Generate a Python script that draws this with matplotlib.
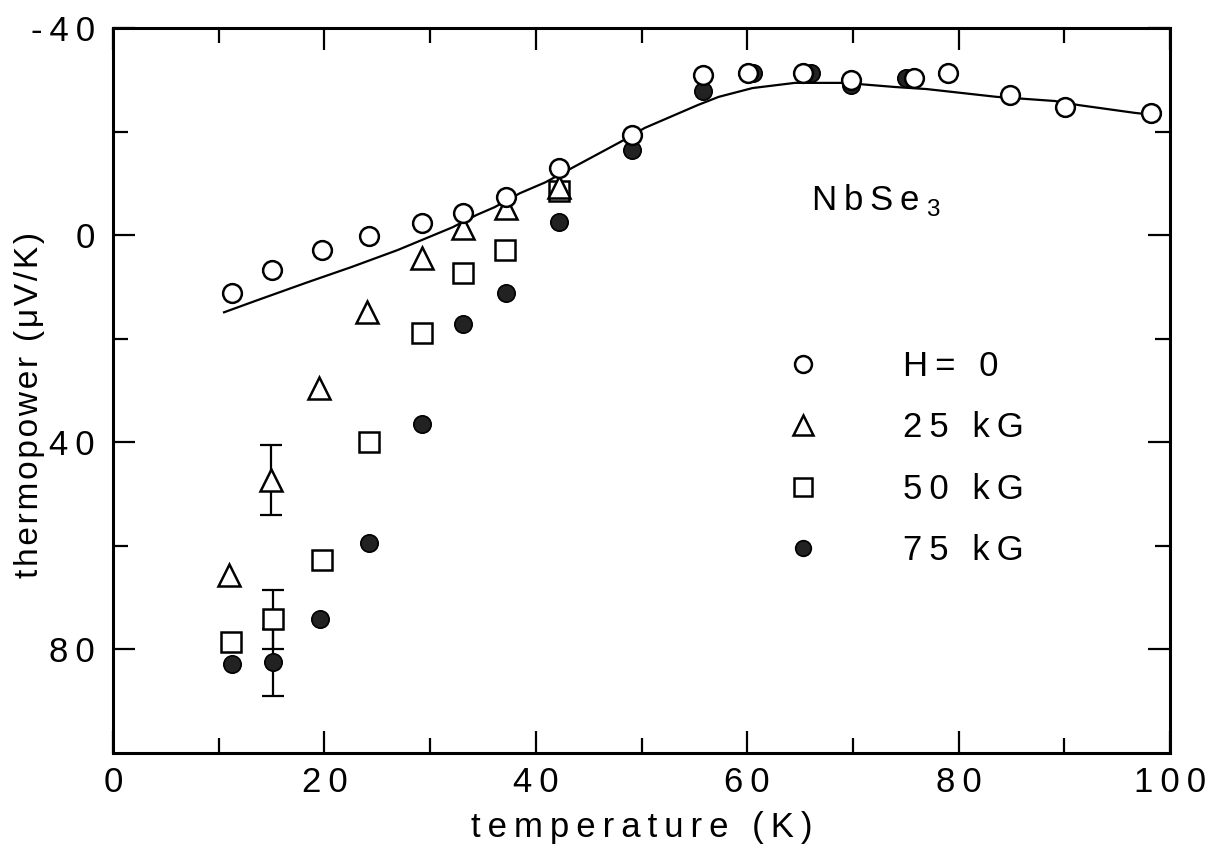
import numpy as np
import matplotlib
matplotlib.use("Agg")
import matplotlib.pyplot as plt

plt.rcParams['font.family'] = ['Liberation Sans', 'DejaVu Sans']
plt.rcParams['mathtext.fontset'] = 'custom'
plt.rcParams['mathtext.rm'] = 'Liberation Sans'

# H = 0 (open circles)
circ_T = [11.3, 15.0, 19.8, 24.2, 29.2, 33.1, 37.2, 42.2, 49.1, 55.8, 60.1,
          65.3, 69.8, 75.8, 79.0, 84.9, 90.1, 98.2]
circ_S = [11.2, 6.8, 2.9, 0.2, -2.3, -4.3, -7.3, -12.9, -19.3, -30.9, -31.3,
          -31.3, -30.0, -30.3, -31.3, -27.1, -24.7, -23.6]

# 25 kG (triangles)
tri_T = [11.0, 14.9, 19.5, 24.0, 29.2, 33.1, 37.2, 42.2]
tri_S = [65.7, 47.3, 29.6, 14.9, 4.4, -1.4, -5.2, -9.3]
tri_err = [0, 6.8, 0, 0, 0, 0, 0, 0]

# 50 kG (squares)
sq_T = [11.2, 15.1, 19.8, 24.2, 29.2, 33.1, 37.1, 42.2]
sq_S = [78.5, 74.2, 62.8, 40.0, 18.9, 7.3, 2.9, -8.5]
sq_err = [0, 5.7, 0, 0, 0, 0, 0, 0]

# 75 kG (filled circles)
fill_T = [11.3, 15.1, 19.6, 24.2, 29.2, 33.1, 37.2, 42.2, 49.1, 55.8, 60.5,
          66.0, 69.8, 75.0]
fill_S = [82.9, 82.5, 74.2, 59.5, 36.5, 17.2, 11.2, -2.5, -16.4, -27.8,
          -31.3, -31.3, -29.0, -30.3]
fill_err = [0, 6.4, 0, 0, 0, 0, 0, 0, 0, 0, 0, 0, 0, 0]

# calculated curve
curve_T = [10.5, 13.6, 18.4, 22.5, 26.9, 32.1, 34.4, 36.1, 38.5, 40.9, 43.9,
           48.0, 50.3, 55.3, 57.3, 60.5, 64.5, 69.2, 74.0, 77.0, 83.6, 89.1,
           91.4, 96.7, 97.6]
curve_S = [14.9, 12.6, 9.1, 6.2, 2.9, -1.5, -3.9, -5.4, -8.1, -10.2, -13.5,
           -18.0, -20.7, -25.1, -26.7, -28.4, -29.4, -29.4, -28.6, -28.2,
           -26.7, -25.9, -25.1, -23.6, -23.4]

xticks = [0, 20, 40, 60, 80, 100]
yticks = [-40, 0, 40, 80]
ytick_labels = ['-40', '0', '40', '80']
legend_labels = ['H= 0', '25 kG', '50 kG', '75 kG']

FS = 25
SP = '\u2009'


def spaced(s, sep=SP):
    return sep.join(s)


fig = plt.figure(figsize=(12.17, 8.48), dpi=100)
ax = fig.add_axes([0.0929, 0.112, 0.8685, 0.855])

ax.plot(curve_T, curve_S, color='black', lw=1.6, zorder=1)


def errbars(T, S, err):
    T = np.array(T)
    S = np.array(S)
    err = np.array(err)
    m = err > 0
    ax.errorbar(T[m], S[m], yerr=err[m], fmt='none', ecolor='black',
                elinewidth=1.6, capsize=8, capthick=1.6, zorder=2)


errbars(fill_T, fill_S, fill_err)
errbars(sq_T, sq_S, sq_err)
errbars(tri_T, tri_S, tri_err)

ax.plot(fill_T, fill_S, 'o', ms=12.5, mfc='#222222', mec='black', mew=1.2,
        zorder=3, label=legend_labels[3])
ax.plot(sq_T, sq_S, 's', ms=15, mfc='white', mec='black', mew=1.8,
        zorder=4, label=legend_labels[2])
ax.plot(tri_T, tri_S, '^', ms=16, mfc='white', mec='black', mew=1.8,
        zorder=5, label=legend_labels[1])
ax.plot(circ_T, circ_S, 'o', ms=13.5, mfc='white', mec='black', mew=1.8,
        zorder=6, label=legend_labels[0])

ax.set_xlim(0, 100)
ax.set_ylim(100, -40)

ax.set_xticks(xticks)
ax.set_xticklabels([spaced(str(t)) for t in xticks])
ax.set_xticks(np.arange(10, 100, 20), minor=True)
ax.set_yticks(yticks)
ax.set_yticklabels([spaced(t) for t in ytick_labels])
ax.set_yticks([-20, 20, 60], minor=True)

ax.tick_params(which='both', direction='in', top=True, right=True,
               width=1.6, labelsize=FS)
ax.tick_params(axis='x', pad=9)
ax.tick_params(axis='y', pad=13)
ax.tick_params(which='major', length=16)
ax.tick_params(which='minor', length=11)
for sp in ax.spines.values():
    sp.set_linewidth(2.2)

ax.set_xlabel(spaced('temperature (K)'), fontsize=FS)
ax.set_ylabel(spaced('thermopower (\u03bcV/K)', '\u200a'), fontsize=FS - 1)
ax.xaxis.set_label_coords(0.5, -0.08)
ax.yaxis.set_label_coords(-0.064, 0.48)

ax.text(66.0, -4.8, spaced('NbSe') + SP + r'$_{3}$', fontsize=FS,
        va='baseline', ha='left')

handles, labels = ax.get_legend_handles_labels()
order = [3, 2, 1, 0]
ax.legend([handles[i] for i in order], [spaced(labels[i]) for i in order],
          loc='upper left', bbox_to_anchor=(0.636, 0.556), frameon=False,
          fontsize=FS, markerscale=0.9, handlelength=1.0,
          handletextpad=2.4, labelspacing=0.82, borderpad=0,
          borderaxespad=0)

fig.savefig('out.png', dpi=100)
